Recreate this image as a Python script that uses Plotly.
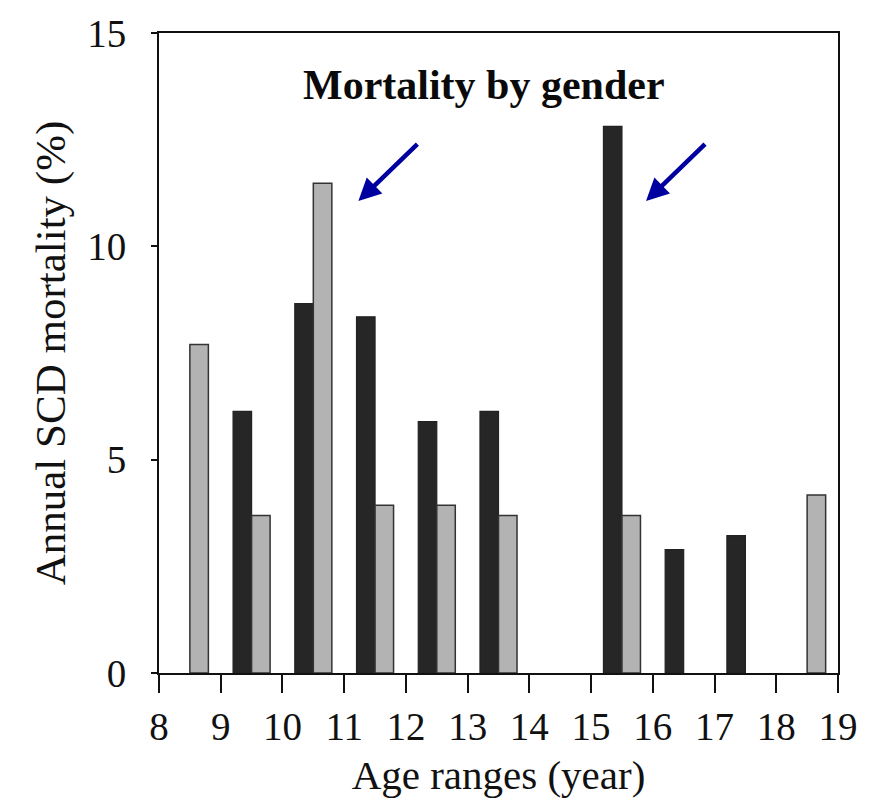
import plotly.graph_objects as go

# Data
age_mid = [8.5, 9.5, 10.5, 11.5, 12.5, 13.5, 14.5, 15.5, 16.5, 17.5, 18.5]
male = [None, 6.13, 8.66, 8.35, 5.89, 6.13, None, 12.81, 2.89, 3.22, None]
female = [7.70, 3.69, 11.48, 3.93, 3.93, 3.69, None, 3.69, None, None, 4.17]
x_ticks = list(range(8, 20))
y_ticks = [0, 5, 10, 15]

# arrows: (tail_x, tail_y, head_x, head_y) in data units
arrows = [(12.21, 12.43, 11.23, 11.06), (16.87, 12.43, 15.89, 11.06)]

FONT = "Liberation Serif, Times New Roman, serif"

fig = go.Figure()
fig.add_trace(go.Bar(x=age_mid, y=male, name="Male",
                     marker=dict(color="#262626", line=dict(color="#222222", width=1.2))))
fig.add_trace(go.Bar(x=age_mid, y=female, name="Female",
                     marker=dict(color="#b3b3b3", line=dict(color="#333333", width=1.5))))

for tx, ty, hx, hy in arrows:
    fig.add_annotation(x=hx, y=hy, ax=tx, ay=ty, xref="x", yref="y", axref="x", ayref="y",
                       text="", showarrow=True, arrowhead=2, arrowsize=1, arrowwidth=4.5,
                       arrowcolor="#0000a0")

fig.add_annotation(x=0.478, y=0.918, xref="paper", yref="paper", text="<b>Mortality by gender</b>",
                   showarrow=False, font=dict(family=FONT, size=42, color="#0a0a0a"),
                   xanchor="center", yanchor="middle")

fig.update_layout(
    width=879, height=803,
    margin=dict(l=159, r=41, t=30, b=130),
    paper_bgcolor="white", plot_bgcolor="white",
    barmode="group", bargap=0.4, bargroupgap=0,
    showlegend=False,
    font=dict(family=FONT, size=39, color="#111111"),
)
fig.update_xaxes(range=[8, 19], tickvals=x_ticks, ticktext=[str(v) for v in x_ticks],
                 ticks="outside", ticklen=18, tickwidth=2, tickcolor="#111111",
                 showline=True, linecolor="#111111", linewidth=2, mirror=True,
                 showgrid=False, zeroline=False,
                 tickfont=dict(size=39),
                 title=dict(text="Age ranges (year)", font=dict(size=41), standoff=14))
fig.update_yaxes(range=[0, 15], tickvals=y_ticks,
                 ticks="outside", ticklen=6, tickwidth=2, tickcolor="#111111",
                 showline=True, linecolor="#111111", linewidth=2, mirror=True,
                 showgrid=False, zeroline=False,
                 tickfont=dict(size=39), ticklabelstandoff=17,
                 title=dict(text="Annual SCD mortality (%)", font=dict(size=43), standoff=8))

fig.write_html("out.html")
